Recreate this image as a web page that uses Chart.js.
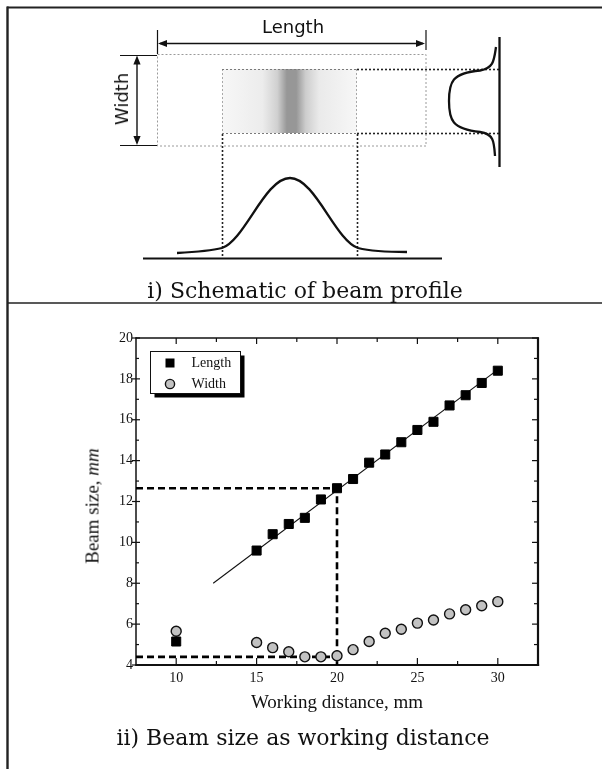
<!DOCTYPE html>
<html>
<head>
<meta charset="utf-8">
<script src="https://cdn.jsdelivr.net/npm/chart.js@4.4.1/dist/chart.umd.min.js"></script>
<style>
  html, body { margin: 0; padding: 0; background: #fff; }
  body { width: 602px; height: 769px; position: relative; overflow: hidden; }
  #sketch { position: absolute; left: 0; top: 0; }
  #plotBox { position: absolute; left: 0; top: 303px; width: 602px; height: 466px; }
  .lbl { position: absolute; white-space: nowrap; color: #111; transform: translate(-50%, -50%); }
  .sans { font-family: "DejaVu Sans", sans-serif; font-size: 18px; line-height: 18px; }
  .cap { font-family: "DejaVu Serif", serif; font-size: 22px; line-height: 22px; }
  .ytitle { font-family: "Liberation Serif", serif; font-size: 19px; line-height: 19px; }
</style>
</head>
<body>
<canvas id="sketch" width="602" height="769"></canvas>
<div class="lbl sans" style="left:293px; top:27px;">Length</div>
<div class="lbl sans" style="left:122px; top:98.5px; transform: translate(-50%, -50%) rotate(-90deg);">Width</div>
<div class="lbl cap" style="left:305px; top:290.5px;">i) Schematic of beam profile</div>

<div id="plotBox"><canvas id="chart" width="602" height="466"></canvas></div>
<div class="lbl ytitle" style="left:92px; top:506px; transform: translate(-50%, -50%) rotate(-90deg);">Beam size, <i>mm</i></div>
<div class="lbl cap" style="left:303px; top:738px;">ii) Beam size as working distance</div>

<script>
// Measured beam size against working distance
const distance = [10, 15, 16, 17, 18, 19, 20, 21, 22, 23, 24, 25, 26, 27, 28, 29, 30];
const lengthMm = [5.15, 9.6, 10.4, 10.9, 11.2, 12.1, 12.65, 13.1, 13.9, 14.3, 14.9, 15.5, 15.9, 16.7, 17.2, 17.8, 18.4];
const widthMm  = [5.65, 5.1, 4.85, 4.65, 4.4, 4.4, 4.45, 4.75, 5.15, 5.55, 5.75, 6.05, 6.2, 6.5, 6.7, 6.9, 7.1];

// Linear fit of the length data
const fitX = [12.3, 30];
const fitY = [8.0, 18.45];

// Guide lines at the 20 mm working distance
const guideLengthX = [7.5, 20, 20];
const guideLengthY = [12.65, 12.65, 4];
const guideWidthX = [7.5, 20];
const guideWidthY = [4.4, 4.4];

// Axis ticks
const xTickValues = [10, 15, 20, 25, 30];
const xMinorTicks = [12.5, 17.5, 22.5, 27.5];
const yTickValues = [4, 6, 8, 10, 12, 14, 16, 18, 20];
const yMinorTicks = [5, 7, 9, 11, 13, 15, 17, 19];

const xRange = [7.5, 32.5];
const yRange = [4, 20];

const pts = (xs, ys) => xs.map((v, i) => ({ x: v, y: ys[i] }));

/* ---------- beam profile schematic ---------- */
(function drawSketch() {
  const c = document.getElementById('sketch').getContext('2d');
  const line = (x1, y1, x2, y2) => { c.beginPath(); c.moveTo(x1, y1); c.lineTo(x2, y2); c.stroke(); };
  const head = (x, y, dx, dy) => {
    // filled arrow head pointing along (dx, dy)
    const L = 9, W = 3.6, px = -dy, py = dx;
    c.beginPath();
    c.moveTo(x, y);
    c.lineTo(x - dx * L + px * W, y - dy * L + py * W);
    c.lineTo(x - dx * L - px * W, y - dy * L - py * W);
    c.closePath();
    c.fill();
  };

  // panel frame
  c.strokeStyle = '#222';
  c.lineWidth = 2;
  line(7, 7.5, 602, 7.5);
  c.lineWidth = 2.4;
  line(7.5, 6.5, 7.5, 769);
  c.lineWidth = 1.6;
  line(7, 303, 602, 303);

  // length dimension
  c.fillStyle = '#111';
  c.strokeStyle = '#111';
  c.lineWidth = 1.4;
  line(160, 43.5, 423, 43.5);
  head(158, 43.5, -1, 0);
  head(425, 43.5, 1, 0);
  c.lineWidth = 1.2;
  line(157.5, 30, 157.5, 54);
  line(426, 30, 426, 50);

  // width dimension
  c.lineWidth = 1.4;
  line(137, 58, 137, 142);
  head(137, 55.5, 0, -1);
  head(137, 145, 0, 1);
  c.lineWidth = 1;
  line(120, 55.5, 157, 55.5);
  line(120, 145.5, 157, 145.5);

  // outer beam footprint
  c.setLineDash([2, 2]);
  c.strokeStyle = '#9a9a9a';
  c.lineWidth = 1;
  c.strokeRect(157.5, 54.5, 268.5, 91.5);

  // intensity spot
  const g = c.createLinearGradient(222, 0, 357, 0);
  g.addColorStop(0, '#f7f7f7');
  g.addColorStop(0.3, '#ececec');
  g.addColorStop(0.41, '#d0d0d0');
  g.addColorStop(0.48, '#979797');
  g.addColorStop(0.55, '#979797');
  g.addColorStop(0.62, '#cdcdcd');
  g.addColorStop(0.72, '#eaeaea');
  g.addColorStop(1, '#f7f7f7');
  c.fillStyle = g;
  c.fillRect(222, 69, 135, 64);
  c.strokeStyle = '#a8a8a8';
  line(222.5, 69, 222.5, 133);
  line(356.5, 69, 356.5, 133);
  c.strokeStyle = '#7a7a7a';
  line(222, 69.5, 357, 69.5);
  line(222, 133.5, 357, 133.5);

  // projection lines
  c.strokeStyle = '#222';
  c.lineWidth = 1.6;
  line(357, 69.5, 499, 69.5);
  line(357, 133.5, 499, 133.5);
  line(222.5, 134, 222.5, 258);
  line(357.5, 134, 357.5, 258);
  c.setLineDash([]);

  // baseline and length-wise profile
  c.strokeStyle = '#111';
  c.lineWidth = 2;
  line(143, 258.5, 442, 258.5);
  c.lineWidth = 2.3;
  c.beginPath();
  c.moveTo(177, 253);
  c.bezierCurveTo(195, 252, 210, 251, 222, 248);
  c.bezierCurveTo(245, 240, 265, 178, 290, 178);
  c.bezierCurveTo(315, 178, 335, 240, 358, 248);
  c.bezierCurveTo(370, 251, 385, 252, 407, 252);
  c.stroke();

  // width-wise profile
  c.lineWidth = 2.3;
  line(499.5, 37, 499.5, 167);
  c.beginPath();
  c.moveTo(496, 47);
  c.bezierCurveTo(494, 60, 494, 68, 480, 70.5);
  c.bezierCurveTo(452, 73, 449, 82, 449, 101);
  c.bezierCurveTo(449, 120, 452, 129, 480, 132);
  c.bezierCurveTo(494, 134, 494, 142, 495, 156);
  c.stroke();
})();

/* ---------- beam size chart ---------- */
const frameTicks = {
  id: 'frameTicks',
  beforeDatasetsDraw(chart) {
    const { ctx, chartArea: a, scales: { x, y } } = chart;
    const seg = (x1, y1, x2, y2) => { ctx.beginPath(); ctx.moveTo(x1, y1); ctx.lineTo(x2, y2); ctx.stroke(); };
    ctx.save();
    ctx.strokeStyle = '#111';
    ctx.lineWidth = 1.2;
    xTickValues.forEach(v => {
      const p = x.getPixelForValue(v);
      seg(p, a.bottom, p, a.bottom - 7);
      seg(p, a.top, p, a.top + 6);
    });
    xMinorTicks.forEach(v => {
      const p = x.getPixelForValue(v);
      seg(p, a.bottom, p, a.bottom - 4);
      seg(p, a.top, p, a.top + 4);
    });
    yTickValues.forEach(v => {
      const p = y.getPixelForValue(v);
      seg(a.left - 4, p, a.left + 4, p);
      seg(a.right, p, a.right - 6, p);
    });
    yMinorTicks.forEach(v => {
      const p = y.getPixelForValue(v);
      seg(a.left, p, a.left + 3, p);
      seg(a.right, p, a.right - 4, p);
    });
    ctx.lineWidth = 1.5;
    seg(a.left - 0.5, a.top, a.right + 1, a.top);
    seg(a.left, a.top - 0.5, a.left, a.bottom + 1);
    ctx.lineWidth = 2.2;
    seg(a.left - 0.5, a.bottom, a.right + 1.1, a.bottom);
    seg(a.right, a.top - 0.5, a.right, a.bottom + 1.1);
    ctx.restore();
  }
};

const insetLegend = {
  id: 'insetLegend',
  afterDatasetsDraw(chart) {
    const { ctx, chartArea: a } = chart;
    const items = chart.data.datasets.filter(d => d.inLegend);
    const bx = a.left + 14.5, by = a.top + 13.5, bw = 90, bh = 42;
    ctx.save();
    ctx.fillStyle = '#000';
    ctx.fillRect(bx + 4, by + 4, bw, bh);
    ctx.fillStyle = '#fff';
    ctx.fillRect(bx, by, bw, bh);
    ctx.strokeStyle = '#111';
    ctx.lineWidth = 1;
    ctx.strokeRect(bx, by, bw, bh);
    ctx.font = '14px "Liberation Serif", serif';
    ctx.textBaseline = 'middle';
    ctx.textAlign = 'left';
    items.forEach((d, i) => {
      const cy = by + 11.5 + i * 21;
      const cx = bx + 19.5;
      ctx.fillStyle = d.backgroundColor;
      ctx.strokeStyle = d.borderColor;
      ctx.lineWidth = d.borderWidth;
      if (d.pointStyle === 'rect') {
        ctx.fillRect(cx - 4.5, cy - 4.5, 9, 9);
      } else {
        ctx.beginPath();
        ctx.arc(cx, cy, 4.6, 0, Math.PI * 2);
        ctx.fill();
        ctx.stroke();
      }
      ctx.fillStyle = '#111';
      ctx.fillText(d.label, bx + 41, cy + 0.5);
    });
    ctx.restore();
  }
};

Chart.defaults.font.family = '"Liberation Serif", serif';
Chart.defaults.color = '#111';

new Chart(document.getElementById('chart'), {
  type: 'scatter',
  data: {
    datasets: [
      {
        label: 'Length', inLegend: true,
        data: pts(distance, lengthMm),
        pointStyle: 'rect', pointRadius: 6.4, pointHoverRadius: 6.4,
        backgroundColor: '#000', borderColor: '#000', borderWidth: 1, order: 0
      },
      {
        label: 'Width', inLegend: true,
        data: pts(distance, widthMm),
        pointStyle: 'circle', pointRadius: 5, pointHoverRadius: 5,
        backgroundColor: '#c2c2c2', borderColor: '#111', borderWidth: 1.4, order: 1
      },
      {
        label: 'Length fit',
        data: pts(fitX, fitY),
        showLine: true, pointRadius: 0, borderColor: '#111', borderWidth: 1.1, order: 2
      },
      {
        label: 'Length at 20 mm',
        data: pts(guideLengthX, guideLengthY),
        showLine: true, pointRadius: 0, borderColor: '#000', borderWidth: 2.6,
        borderDash: [7, 4], order: 3
      },
      {
        label: 'Width at 20 mm',
        data: pts(guideWidthX, guideWidthY),
        showLine: true, pointRadius: 0, borderColor: '#000', borderWidth: 2.6,
        borderDash: [7, 4], order: 4
      }
    ]
  },
  options: {
    responsive: false,
    animation: false,
    events: [],
    layout: { padding: { left: 0, top: 35, right: 64, bottom: 44 } },
    plugins: { legend: { display: false }, tooltip: { enabled: false } },
    scales: {
      x: {
        type: 'linear', min: xRange[0], max: xRange[1],
        grid: { display: false, drawTicks: false },
        border: { display: false },
        afterBuildTicks(s) { s.ticks = xTickValues.map(v => ({ value: v })); },
        afterFit(s) { s.height = 60; },
        ticks: { padding: 4.6, autoSkip: false, maxRotation: 0, font: { size: 14 }, color: '#111' },
        title: {
          display: true, text: 'Working distance, mm', color: '#111',
          font: { size: 19 }, padding: { top: 0, bottom: 10.6 }
        }
      },
      y: {
        type: 'linear', min: yRange[0], max: yRange[1],
        grid: { display: false, drawTicks: false },
        border: { display: false },
        afterBuildTicks(s) { s.ticks = yTickValues.map(v => ({ value: v })); },
        afterFit(s) { s.width = 136; },
        ticks: { padding: 3, autoSkip: false, font: { size: 14 }, color: '#111' }
      }
    }
  },
  plugins: [frameTicks, insetLegend]
});
</script>
</body>
</html>
